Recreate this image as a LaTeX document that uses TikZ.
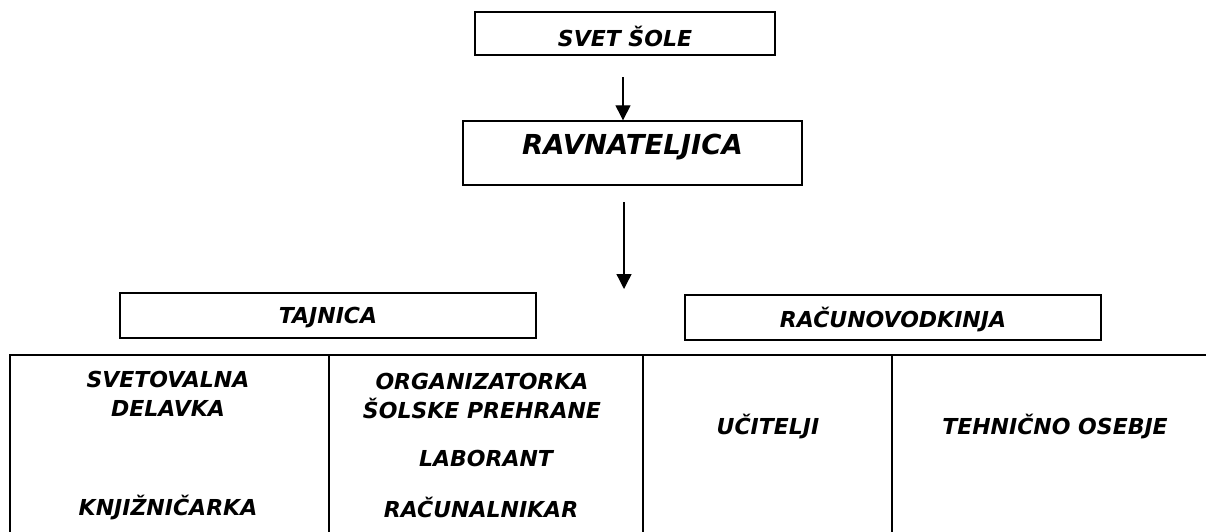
\documentclass[tikz,border=0pt]{standalone}
\usepackage{fontspec}
\newfontfamily\vf{DejaVu Sans Bold Oblique}
\usetikzlibrary{arrows.meta}
\begin{document}
\begin{tikzpicture}[x=1pt,y=-1pt,
  box/.style={draw, line width=1.4pt, inner sep=0pt},
  lbl/.style={font=\vf\fontsize{22}{29}\selectfont, inner sep=0pt, align=center},
  big/.style={font=\vf\fontsize{27.5}{32}\selectfont, inner sep=0pt},
  rule/.style={line width=1.4pt},
  arr/.style={line width=1.3pt, -{Triangle[width=15pt,length=15pt]}}]
\useasboundingbox (0,0) rectangle (1206,531);
\clip (0,0) rectangle (1206,531);
% top boxes
\node[box, minimum width=300pt, minimum height=43pt] (svet) at (625,33.5) {};
\node[lbl] (svett) at (625,36) {SVET ŠOLE};
\node[box, minimum width=339pt, minimum height=64pt] (rav) at (632.5,153) {};
\node[big] (ravt) at (632.5,147) {RAVNATELJICA};
\node[box, minimum width=416pt, minimum height=45pt] (taj) at (328,315.5) {};
\node[lbl] (tajt) at (328,318) {TAJNICA};
\node[box, minimum width=416pt, minimum height=45pt] (rac) at (893,317.5) {};
\node[lbl] (ract) at (893,319) {RAČUNOVODKINJA};
% arrows
\coordinate (a1s) at (623,77);
\coordinate (a2s) at (624,202);
\coordinate (a2e) at (624,289);
\draw[arr] (a1s) -- (a1s |- rav.north);
\draw[arr] (a2s) -- (a2e);
% table
\coordinate (tl) at (10,355);
\coordinate (tr) at (1210,355);
\draw[rule] (10,540) -- (tl) -- (tr);
\draw[rule] (329,355) -- (329,540);
\draw[rule] (643,355) -- (643,540);
\draw[rule] (892,355) -- (892,540);
% cell texts
\node[lbl] (c1a) at (168,394) {SVETOVALNA\\DELAVKA};
\node[lbl] (c1b) at (168,507) {KNJIŽNIČARKA};
\node[lbl] (c2a) at (482,396) {ORGANIZATORKA\\ŠOLSKE PREHRANE};
\node[lbl] (c2b) at (486,458) {LABORANT};
\node[lbl] (c2c) at (481,507) {RAČUNALNIKAR};
\node[lbl] (c3) at (768,426) {UČITELJI};
\node[lbl] (c4) at (1055,426) {TEHNIČNO OSEBJE};
\end{tikzpicture}
\end{document}
